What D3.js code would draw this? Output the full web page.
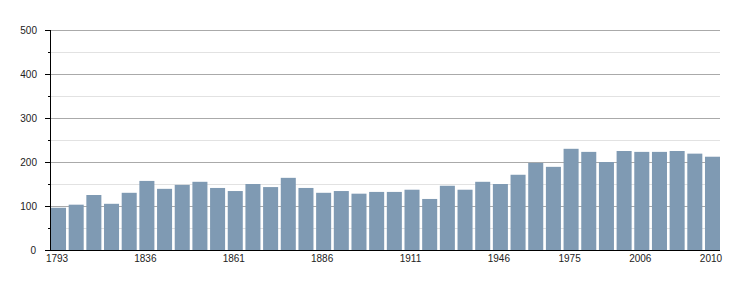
<!DOCTYPE html>
<html>
<head>
<meta charset="utf-8">
<script src="https://cdn.jsdelivr.net/npm/d3@7"></script>
<style>
  html, body { margin: 0; padding: 0; background: #fff; }
  svg { display: block; }
  text { font-family: "Liberation Sans", Arial, Helvetica, sans-serif; font-size: 10px; fill: #222; }
</style>
</head>
<body>
<svg id="chart" width="750" height="300"></svg>
<script>
const years = ["1793","1800","1806","1821","1831","1836","1841","1846","1851","1856",
  "1861","1866","1872","1876","1881","1886","1891","1896","1901","1906",
  "1911","1921","1926","1931","1936","1946","1954","1962","1968","1975",
  "1982","1990","1999","2006","2007","2008","2009","2010"];
const population = [96,103,125,105,130,157,139,148,155,141,
  134,150,143,164,141,130,134,128,132,132,
  137,116,146,137,155,150,171,198,189,230,
  223,200,225,223,223,225,219,212];
const shownYearLabels = ["1793","1836","1861","1886","1911","1946","1975","2006","2010"];
const yMajorTicks = [0,100,200,300,400,500];
const yMinorTicks = [50,150,250,350,450];

const svg = d3.select("#chart");
const mLeft = 50, mRight = 720, mTop = 30, mBottom = 250;

const x = d3.scaleBand().domain(years).range([51, 720]).paddingInner(0.15).paddingOuter(0);
const y = d3.scaleLinear().domain([0, 500]).range([mBottom, mTop]);

// gridlines
svg.append("g").selectAll("line").data(yMinorTicks).join("line")
  .attr("x1", mLeft).attr("x2", mRight)
  .attr("y1", d => Math.round(y(d)) + 0.5).attr("y2", d => Math.round(y(d)) + 0.5)
  .attr("stroke", "#e2e2e2").attr("stroke-width", 1);
svg.append("g").selectAll("line").data(yMajorTicks.filter(d => d > 0)).join("line")
  .attr("x1", mLeft).attr("x2", mRight)
  .attr("y1", d => Math.round(y(d)) + 0.5).attr("y2", d => Math.round(y(d)) + 0.5)
  .attr("stroke", "#aaaaaa").attr("stroke-width", 1);

// bars
svg.append("g").selectAll("rect").data(years).join("rect")
  .attr("x", d => x(d))
  .attr("width", x.bandwidth())
  .attr("y", (d, i) => y(population[i]))
  .attr("height", (d, i) => y(0) - y(population[i]))
  .attr("fill", "#7f9ab3");

// y axis
const yAxis = svg.append("g");
yAxis.append("line").attr("x1", mLeft + 0.5).attr("x2", mLeft + 0.5)
  .attr("y1", mTop).attr("y2", mBottom).attr("stroke", "#000");
yAxis.selectAll("line.maj").data(yMajorTicks).join("line").attr("class", "maj")
  .attr("x1", mLeft - 5).attr("x2", mLeft)
  .attr("y1", d => Math.round(y(d)) + 0.5).attr("y2", d => Math.round(y(d)) + 0.5)
  .attr("stroke", "#000");
yAxis.selectAll("line.min").data(yMinorTicks).join("line").attr("class", "min")
  .attr("x1", mLeft - 2).attr("x2", mLeft)
  .attr("y1", d => Math.round(y(d)) + 0.5).attr("y2", d => Math.round(y(d)) + 0.5)
  .attr("stroke", "#000");
yAxis.selectAll("text").data(yMajorTicks).join("text")
  .attr("x", d => d === 0 ? 36 : 37)
  .attr("y", d => y(d) + 4)
  .attr("text-anchor", "end")
  .text(d => d);

// x axis
const xAxis = svg.append("g");
xAxis.append("line").attr("x1", 46).attr("x2", mRight)
  .attr("y1", mBottom + 0.5).attr("y2", mBottom + 0.5).attr("stroke", "#000");
xAxis.selectAll("text").data(shownYearLabels).join("text")
  .attr("x", d => x(d) + x.bandwidth() / 2 - 1.5)
  .attr("y", 262)
  .attr("text-anchor", "middle")
  .text(d => d);
</script>
</body>
</html>
